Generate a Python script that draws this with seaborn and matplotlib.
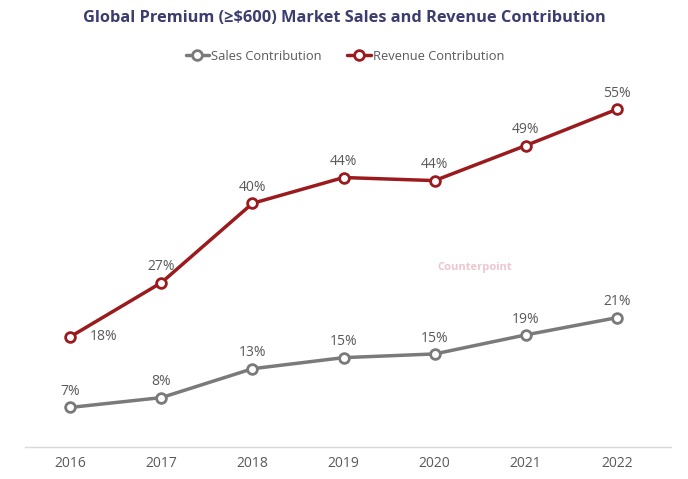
import matplotlib
matplotlib.use("Agg")
import matplotlib.pyplot as plt
import seaborn as sns
import pandas as pd

years = ["2016", "2017", "2018", "2019", "2020", "2021", "2022"]
sales = [6.5, 8.1, 12.8, 14.6, 15.2, 18.3, 21.1]
revenue = [18.0, 26.8, 39.7, 43.9, 43.4, 49.1, 55.0]
sales_labels = ["7%", "8%", "13%", "15%", "15%", "19%", "21%"]
revenue_labels = ["18%", "27%", "40%", "44%", "44%", "49%", "55%"]

sns.set_theme(style="white")
plt.rcParams['font.family'] = ['Open Sans', 'DejaVu Sans']

df = pd.DataFrame({
    "Year": years * 2,
    "Value": sales + revenue,
    "Series": ["Sales Contribution"] * len(years) + ["Revenue Contribution"] * len(years),
})
palette = {"Sales Contribution": "#7a7a7a", "Revenue Contribution": "#9b1a1e"}

fig = plt.figure(figsize=(6.88, 4.79), dpi=100)
ax = fig.add_axes([0.036, 0.066, 0.94, 0.77])

sns.lineplot(data=df, x="Year", y="Value", hue="Series", palette=palette,
             marker="o", markersize=7, markerfacecolor="white", markeredgewidth=2,
             linewidth=2.5, ax=ax, sort=False)
for line in ax.lines:
    line.set_markeredgecolor(line.get_color())

ax.set_xlim(-0.5, 6.6)
ax.set_ylim(0, 60)
ax.set_xlabel("")
ax.set_ylabel("")
ax.set_yticks([])
for s in ["top", "left", "right"]:
    ax.spines[s].set_visible(False)
ax.spines["bottom"].set_color("#d9d9d9")
ax.spines["bottom"].set_linewidth(1)
ax.tick_params(axis="x", colors="#595959", labelsize=10, length=0, pad=6)

txt = dict(color="#595959", fontsize=10)
for i, (v, lab) in enumerate(zip(revenue, revenue_labels)):
    if i == 0:
        ax.annotate(lab, (i, v), xytext=(14, 0), textcoords="offset points",
                    ha="left", va="center", **txt)
    else:
        ax.annotate(lab, (i, v), xytext=(0, 6), textcoords="offset points",
                    ha="center", va="bottom", **txt)
for i, (v, lab) in enumerate(zip(sales, sales_labels)):
    ax.annotate(lab, (i, v), xytext=(0, 6), textcoords="offset points",
                ha="center", va="bottom", **txt)

handles, labels = ax.get_legend_handles_labels()
ax.legend(handles, labels, loc="upper center", bbox_to_anchor=(0.495, 1.11),
          ncol=2, frameon=False, fontsize=9.3, labelcolor="#595959",
          handlelength=1.8, handletextpad=0.15, columnspacing=2.0)

fig.text(0.5, 0.962, "Global Premium (\u2265$600) Market Sales and Revenue Contribution",
         ha="center", va="center", fontsize=11.8, fontweight="bold", color="#3c3c6e")

fig.text(0.635, 0.442, "Counterpoint", ha="left", va="center", fontsize=8,
         fontweight="bold", color="#e8b7c3", alpha=0.8)

fig.savefig("out.png", dpi=100)
